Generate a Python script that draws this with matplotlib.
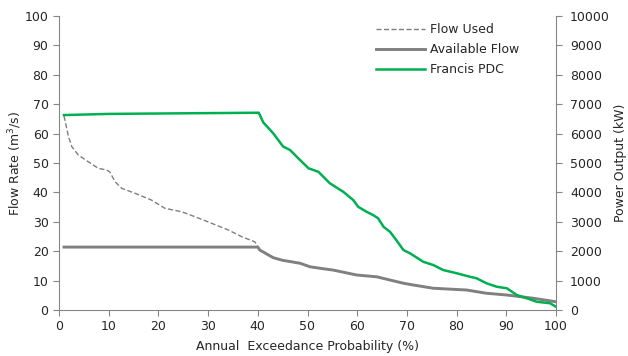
import matplotlib.pyplot as plt

# Flow duration data
used_pct = [1, 1.2, 1.9, 2.6, 3.9, 5.9, 7.9, 9.6, 10.2, 11.3, 12.6, 15.3, 18.6, 21.3,
            24.7, 27.4, 30.7, 34.1, 36.8, 39.4, 40.4, 43.1, 45, 48.5, 50.5, 52.5,
            55.1, 59.9, 63.9, 66.6, 69.3, 71.3, 75.3, 82, 86, 90.1, 95.4, 100]
used_flow = [66, 64.6, 59, 55.5, 52.7, 50.4, 48.2, 47.6, 47, 43.6, 41.4, 39.7, 37.4, 34.6,
             33.4, 31.7, 29.5, 27.2, 24.9, 23.2, 20.4, 17.8, 16.9, 15.9, 14.7, 14.2,
             13.6, 11.9, 11.3, 10.2, 9.1, 8.5, 7.4, 6.8, 5.7, 5.1, 4.0, 2.8]

avail_pct = [1, 40, 40.4, 43.1, 45, 48.5, 50.5, 52.5, 55.1, 59.9, 63.9, 66.6,
             69.3, 71.3, 75.3, 82, 86, 90.1, 95.4, 100]
avail_flow = [21.4, 21.4, 20.4, 17.8, 16.9, 15.9, 14.7, 14.2, 13.6, 11.9, 11.3, 10.2,
              9.1, 8.5, 7.4, 6.8, 5.7, 5.1, 4.0, 2.8]

pdc_pct = [1, 10, 25, 40.2, 41.1, 43.1, 45.1, 46.5, 48.5, 50.2, 52.2, 54.5, 57.2,
           59.2, 60.2, 61.9, 63.2, 64.2, 65.3, 66.6, 67.6, 69.3, 70.6, 73.3, 75.3,
           77.3, 80, 82.7, 84, 86, 88.1, 90.1, 92.1, 94.1, 96.1, 98.8, 100]
pdc_kw = [6630, 6670, 6690, 6710, 6380, 6010, 5560, 5440, 5100, 4820, 4700, 4310, 4020,
          3740, 3510, 3340, 3230, 3120, 2830, 2660, 2440, 2040, 1930, 1640, 1530,
          1360, 1250, 1130, 1080, 910, 790, 740, 510, 400, 280, 230, 110]

spine_col = '#868686'
text_col = '#262626'
green = '#00B050'
gray = '#808080'

plt.rcParams['font.family'] = 'DejaVu Sans'
plt.rcParams['font.size'] = 9

fig = plt.figure(figsize=(6.28, 3.56), dpi=100)
ax = fig.add_axes([59/628, 46/356, 497/628, 294/356])
ax2 = ax.twinx()

l1, = ax.plot(used_pct, used_flow, ls=(0, (3.6, 1.8)), lw=1.0, color='#7f7f7f',
              label='Flow Used')
l2, = ax.plot(avail_pct, avail_flow, lw=2.1, color=gray, label='Available Flow')
l3, = ax2.plot(pdc_pct, pdc_kw, lw=1.8, color=green, label='Francis PDC')

ax.set_xlim(0, 100)
ax.set_ylim(0, 100)
ax2.set_ylim(0, 10000)
ax.set_xticks(range(0, 101, 10))
ax.set_yticks(range(0, 101, 10))
ax2.set_yticks(range(0, 10001, 1000))

for a in (ax, ax2):
    a.spines['top'].set_visible(False)
    for s in ('left', 'right', 'bottom'):
        a.spines[s].set_color(spine_col)
    a.tick_params(colors=spine_col, labelcolor=text_col, length=4, labelsize=9)
ax.spines['right'].set_visible(False)
ax2.spines['left'].set_visible(False)
ax2.spines['bottom'].set_visible(False)
ax2.tick_params(axis='y', pad=6)

ax.set_ylabel('Flow Rate (m$^3$/s)', color=text_col, fontsize=9, labelpad=0.5)
ax2.set_ylabel('Power Output (kW)', color=text_col, fontsize=9, labelpad=3)
ax.set_xlabel('Annual  Exceedance Probability (%)', color=text_col, fontsize=9,
              labelpad=5)

leg = ax.legend(handles=[l1, l2, l3], loc='upper left',
                bbox_to_anchor=(306/497, 1.014), frameon=False, handlelength=3.9,
                handletextpad=0.4, labelspacing=0.55, fontsize=9)
for t in leg.get_texts():
    t.set_color(text_col)

fig.savefig('out.png', dpi=100)
